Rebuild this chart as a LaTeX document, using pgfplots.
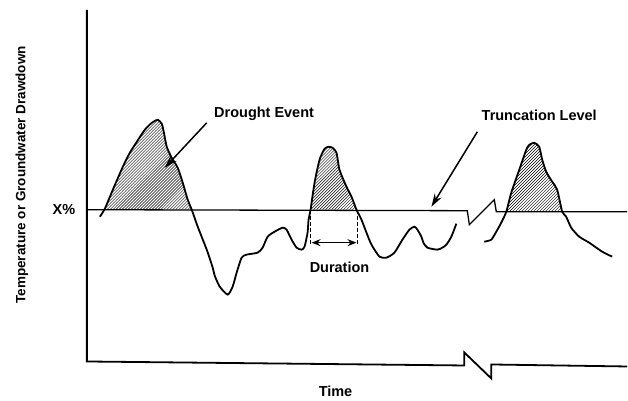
\documentclass[border=0pt]{standalone}
\usepackage{fontspec}
\setmainfont{Liberation Sans}
\usepackage{pgfplots}
\pgfplotsset{compat=1.18}
\usetikzlibrary{patterns,arrows.meta}
\tikzset{lbl/.style={font=\fontsize{14.5}{16}\selectfont\bfseries}}
\begin{document}
\begin{tikzpicture}
\begin{axis}[
  scale only axis, width=628pt, height=401pt,
  xmin=0, xmax=628, ymin=0, ymax=401, y dir=reverse,
  hide axis, clip=false,
]
% frame for bounding box
\addplot[draw=none, forget plot] coordinates {(0,0) (628,401)};
% hatched drought events
\addplot[pattern=north east lines, draw=none] coordinates {
(105,210) (113,190) (123,167) (130,153) (137,142) (145,130) (152,123) (158,120) (162,124) (164,132) (167,147) (172,158) (178,168) (183,183) (188,200) (192,210)} -- cycle;
\addplot[pattern=north east lines, draw=none] coordinates {
(311,210) (315,183) (320,160) (325,149) (329,147) (333,148) (337,153) (340,170) (347,187) (352,197) (357,210)} -- cycle;
\addplot[pattern=north east lines, draw=none] coordinates {
(507,212) (512,193) (520,170) (527,150) (530,145) (535,143) (540,147) (543,160) (547,172) (553,182) (558,190) (563,212)} -- cycle;
% axes
\addplot[black, line width=1.8pt] coordinates {(87,10) (87,362) (465,366) (465,353) (492,379) (492,365) (628,367)};
% truncation level
\addplot[black, line width=1.3pt] coordinates {(87,210) (468,211) (470,225) (495,200) (497,212) (628,212)};
% series, segment 1
\addplot[black, line width=1.8pt, smooth, tension=0.4] coordinates {
(100,217) (105,209) (113,190) (123,167) (130,153) (137,142) (145,130) (152,123) (158,120) (162,124) (164,132) (167,147) (172,158) (178,168) (183,183) (188,200) (192,210)
(198,227) (207,250) (213,268) (215,276) (220,287) (228,295) (233,287) (237,273) (242,258) (247,255) (258,253) (263,248) (268,237) (275,232) (283,228) (287,230) (292,240) (297,248) (302,250) (305,247) (308,233) (309,220) (311,210)
(315,183) (320,160) (325,149) (329,147) (333,148) (337,153) (340,170) (347,187) (352,197) (357,210)
(362,220) (367,233) (372,245) (380,257) (387,258) (395,253) (403,240) (410,230) (415,227) (418,230) (422,237) (424,243) (428,248) (438,250) (443,248) (447,245) (452,237) (457,224)};
% series, segment 2
\addplot[black, line width=1.8pt, smooth, tension=0.4] coordinates {
(485,242) (492,240) (497,232) (502,223) (507,212) (512,193) (520,170) (527,150) (530,145) (535,143) (540,147) (543,160) (547,172) (553,182) (558,190) (563,212)
(567,217) (572,228) (580,237) (590,243) (603,252) (613,257)};
% duration markers
\addplot[black, line width=1.6pt, dash pattern=on 4pt off 2pt] coordinates {(311,210) (311,244)};
\addplot[black, line width=1.6pt, dash pattern=on 4pt off 2pt] coordinates {(358,210) (358,244)};
\addplot[black, line width=1.3pt, {Stealth[length=9pt,width=7pt]}-{Stealth[length=9pt,width=7pt]}] coordinates {(312,243) (357,243)};
% annotation arrows
\addplot[black, line width=1.5pt, -{Stealth[length=13pt,width=8pt]}] coordinates {(207,123) (165,168)};
\addplot[black, line width=1.5pt, -{Stealth[length=13pt,width=8pt]}] coordinates {(478,132) (432,207)};
% labels
\node[lbl, anchor=west] at (axis cs:211,114) {Drought Event};
\node[lbl] at (axis cs:540,115) {Truncation Level};
\node[lbl] at (axis cs:340,268) {Duration};
\node[lbl] at (axis cs:64,210) {X\%};
\node[lbl] at (axis cs:336,392) {Time};
\node[lbl, rotate=90, font=\fontsize{13.5}{15}\selectfont\bfseries] at (axis cs:22,175) {Temperature or Groundwater Drawdown};
\end{axis}
\end{tikzpicture}
\end{document}
